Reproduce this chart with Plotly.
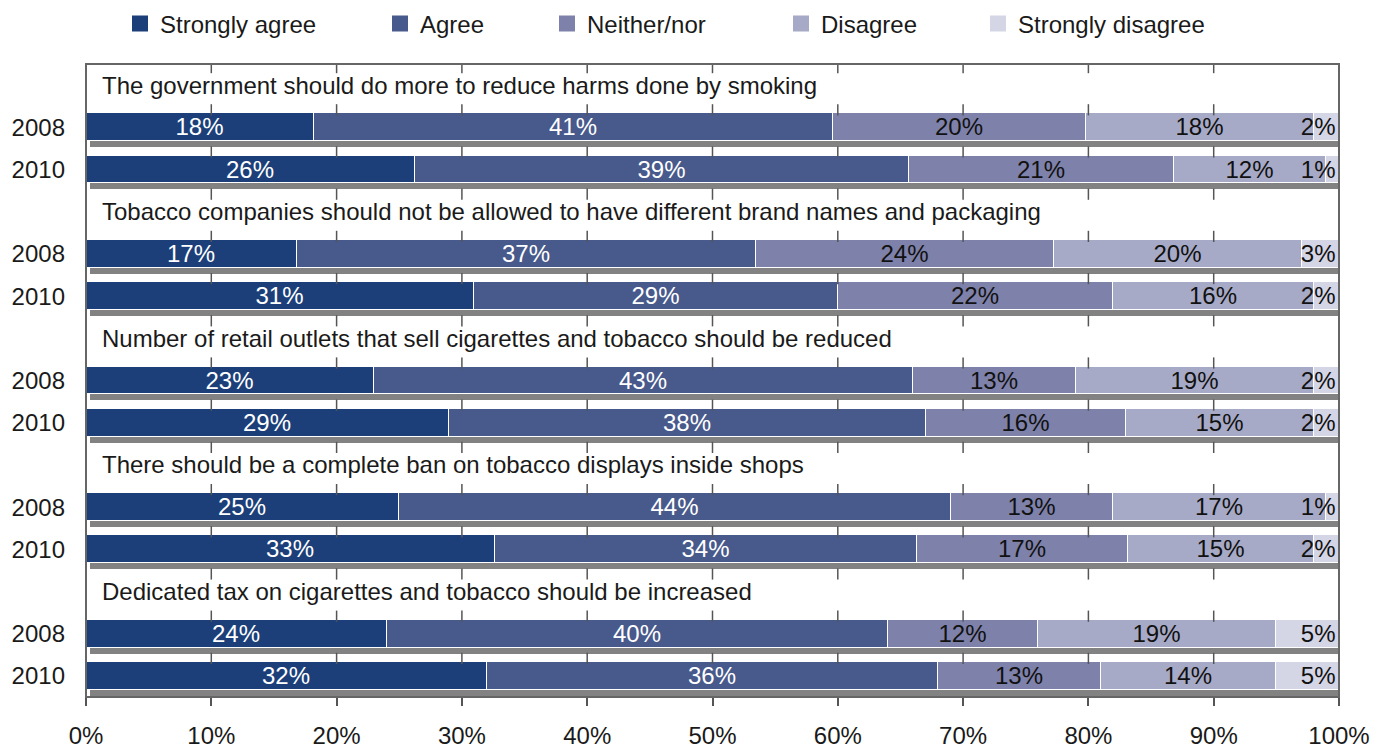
import plotly.graph_objects as go

questions = [
    "The government should do more to reduce harms done by smoking",
    "Tobacco companies should not be allowed to have different brand names and packaging",
    "Number of retail outlets that sell cigarettes and tobacco should be reduced",
    "There should be a complete ban on tobacco displays inside shops",
    "Dedicated tax on cigarettes and tobacco should be increased",
]
years = ["2008", "2010"]
categories = ["Strongly agree", "Agree", "Neither/nor", "Disagree", "Strongly disagree"]
strongly_agree = [18, 26, 17, 31, 23, 29, 25, 33, 24, 32]
agree = [41, 39, 37, 29, 43, 38, 44, 34, 40, 36]
neither = [20, 21, 24, 22, 13, 16, 13, 17, 12, 13]
disagree = [18, 12, 20, 16, 19, 15, 17, 15, 19, 14]
strongly_disagree = [2, 1, 3, 2, 2, 2, 1, 2, 5, 5]
x_ticks = [0, 10, 20, 30, 40, 50, 60, 70, 80, 90, 100]

series = [strongly_agree, agree, neither, disagree, strongly_disagree]
colors = ["#1c3f7a", "#48598b", "#7e81aa", "#a7aac6", "#d4d5e5"]
text_colors = ["white", "white", "#111111", "#111111", "#111111"]
anchors = ["middle", "middle", "middle", "middle", "end"]

# row layout: each question has a title row and two year rows
bar_rows, bar_labels, title_rows = [], [], []
for g in range(len(questions)):
    title_rows.append(3 * g)
    for j, yr in enumerate(years):
        bar_rows.append(3 * g + 1 + j)
        bar_labels.append(yr)
n_rows = 3 * len(questions)

FONT = "Liberation Sans, Arial, sans-serif"
BAR_W = 0.66
SHADOW_DY = 0.14

fig = go.Figure()

# shadows (main subplot, drawn beneath)
fig.add_trace(go.Bar(
    y=[r + SHADOW_DY for r in bar_rows], x=[100] * len(bar_rows),
    orientation="h", width=BAR_W, marker=dict(color="#828282", line=dict(width=0)),
    xaxis="x", yaxis="y", showlegend=False, hoverinfo="skip",
))

for i, (name, vals) in enumerate(zip(categories, series)):
    fig.add_trace(go.Bar(
        name=name, y=bar_rows, x=vals, orientation="h", width=BAR_W,
        marker=dict(color=colors[i], line=dict(color="white", width=1)),
        text=[f"{v}%" for v in vals], texttemplate="%{text}",
        textposition="inside", insidetextanchor=anchors[i], constraintext="none",
        textangle=0,
        textfont=dict(color=text_colors[i], size=24, family=FONT),
        xaxis="x2", yaxis="y", showlegend=False, hoverinfo="skip",
    ))

# legend entries with larger square swatches
for i, name in enumerate(categories):
    lname = "legend" if i == 0 else f"legend{i+1}"
    fig.add_trace(go.Scatter(
        name=name, x=[None], y=[None], mode="markers", xaxis="x2", yaxis="y",
        marker=dict(symbol="square", size=20, color=colors[i], line=dict(width=0)),
        legend=lname, showlegend=True, hoverinfo="skip",
    ))

# small inner tick marks at each row boundary
tx, ty = [], []
for k in range(n_rows):
    for xv in x_ticks[1:-1]:
        tx.append(xv)
        ty.append(k - 0.5 + 0.085)
fig.add_trace(go.Scatter(
    x=tx, y=ty, mode="markers", xaxis="x2", yaxis="y",
    marker=dict(symbol="line-ns", size=8, line=dict(color="#555555", width=1.5)),
    showlegend=False, hoverinfo="skip",
))

annotations = []
for q, r in zip(questions, title_rows):
    annotations.append(dict(
        x=1.1, y=r, xref="x2", yref="y", text=q, showarrow=False,
        xanchor="left", yanchor="middle",
        font=dict(size=24, family=FONT, color="#1a1a1a"),
    ))

# page body has an 8px margin; positions below are in figure pixels
OFF = 8
W, H = 1386 - OFF, 749 - OFF
L, T = 86 - OFF, 64 - OFF
R = W - (1339 - OFF)
B = H - (697 - OFF)
ph = H - T - B
pw = W - L - R

legend_text_x = [160, 420, 587, 821, 1018]
layout_legends = {}
for i, px in enumerate(legend_text_x):
    key = "legend" if i == 0 else f"legend{i+1}"
    layout_legends[key] = dict(
        x=(px - OFF - 40 - L) / pw, y=1 + (T - (24 - OFF)) / ph,
        xanchor="left", yanchor="middle",
        orientation="h", font=dict(size=24, family=FONT, color="#1a1a1a"),
        bgcolor="rgba(0,0,0,0)", borderwidth=0, itemsizing="trace",
    )

fig.update_layout(
    width=W, height=H,
    margin=dict(l=L, r=R, t=T, b=B, autoexpand=False),
    plot_bgcolor="white", paper_bgcolor="white",
    barmode="stack", barnorm="percent",
    bargap=0,
    font=dict(family=FONT, size=24, color="#1a1a1a"),
    xaxis=dict(range=[-0.3, 99.7], visible=False, fixedrange=True),
    xaxis2=dict(
        overlaying="x", anchor="y", side="bottom", range=[0, 100],
        tickvals=x_ticks, ticktext=[f"{v}%" for v in x_ticks],
        ticks="outside", ticklen=8, tickwidth=1.5, tickcolor="#555555",
        ticklabelstandoff=9, automargin=False,
        showgrid=False, zeroline=False, showline=False,
        tickfont=dict(size=24, family=FONT, color="#1a1a1a"),
    ),
    yaxis=dict(
        range=[n_rows - 0.5, -0.5], tickvals=bar_rows, ticktext=bar_labels,
        ticks="", showgrid=False, zeroline=False, showline=False,
        ticklabelstandoff=20, automargin=False,
        tickfont=dict(size=24, family=FONT, color="#1a1a1a"),
    ),
    annotations=annotations,
    shapes=[dict(type="rect", xref="paper", yref="paper", x0=0, x1=1, y0=0, y1=1,
                 line=dict(color="#666666", width=2), layer="above")],
    **layout_legends,
)

fig.write_html("out.html")
